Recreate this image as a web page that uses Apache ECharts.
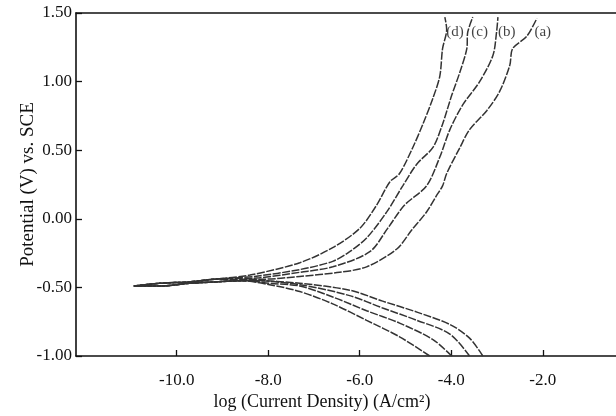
<!DOCTYPE html>
<html>
<head>
<meta charset="utf-8">
<script src="https://cdn.jsdelivr.net/npm/echarts@6/dist/echarts.min.js"></script>
<style>
  html, body { margin: 0; padding: 0; background: #fff; }
  #chart { width: 616px; height: 416px; }
</style>
</head>
<body>
<div id="chart"></div>
<script>
// log(i) / E pairs, each curve runs cathodic (bottom) -> Ecorr tip -> anodic (top)
const curveA_logI = [-3.31, -3.60, -4.03, -4.75, -5.50, -6.22, -7.31, -8.30, -9.17, -9.72, -10.37, -10.94, -10.37, -9.72, -9.17, -8.08, -7.31, -6.44, -5.85, -5.19, -4.86, -4.54, -4.32, -4.19, -4.10, -3.81, -3.60, -3.22, -2.94, -2.72, -2.66, -2.35, -2.13];
const curveA_E    = [-1.00, -0.87, -0.77, -0.68, -0.60, -0.52, -0.47, -0.45, -0.46, -0.47, -0.49, -0.49, -0.47, -0.46, -0.44, -0.44, -0.42, -0.39, -0.35, -0.22, -0.08, 0.05, 0.17, 0.24, 0.33, 0.52, 0.65, 0.79, 0.93, 1.12, 1.24, 1.33, 1.46];

const curveB_logI = [-3.60, -4.03, -4.75, -5.50, -6.22, -7.31, -8.40, -9.17, -9.72, -10.37, -10.94, -10.37, -9.72, -9.17, -8.19, -7.31, -6.59, -5.78, -5.39, -5.02, -4.54, -4.25, -4.03, -3.75, -3.38, -3.09, -3.01, -2.98];
const curveB_E    = [-1.00, -0.84, -0.74, -0.65, -0.56, -0.48, -0.45, -0.46, -0.47, -0.49, -0.49, -0.47, -0.46, -0.44, -0.43, -0.39, -0.35, -0.24, -0.07, 0.10, 0.24, 0.45, 0.65, 0.83, 1.00, 1.19, 1.36, 1.47];

const curveC_logI = [-3.99, -4.40, -5.13, -5.85, -6.59, -7.31, -7.97, -8.51, -9.17, -9.72, -10.37, -10.94, -10.37, -9.72, -9.17, -8.30, -7.31, -6.59, -6.22, -5.85, -5.41, -5.06, -4.75, -4.40, -4.19, -3.99, -3.81, -3.66, -3.64, -3.53];
const curveC_E    = [-1.00, -0.88, -0.76, -0.67, -0.57, -0.49, -0.47, -0.45, -0.46, -0.47, -0.49, -0.49, -0.47, -0.46, -0.44, -0.42, -0.37, -0.31, -0.24, -0.14, 0.05, 0.24, 0.40, 0.52, 0.69, 0.90, 1.07, 1.24, 1.36, 1.47];

const curveD_logI = [-4.47, -5.13, -5.85, -6.59, -7.31, -7.97, -8.62, -9.17, -9.72, -10.37, -10.94, -10.37, -9.72, -9.17, -8.40, -7.31, -6.59, -6.00, -5.63, -5.34, -5.13, -4.84, -4.62, -4.40, -4.25, -4.19, -4.10, -4.14];
const curveD_E    = [-1.00, -0.86, -0.74, -0.62, -0.53, -0.48, -0.45, -0.46, -0.47, -0.49, -0.49, -0.47, -0.46, -0.44, -0.41, -0.32, -0.21, -0.07, 0.10, 0.27, 0.33, 0.52, 0.69, 0.88, 1.04, 1.24, 1.38, 1.47];

const curveNames = ['(a)', '(b)', '(c)', '(d)'];
const labelLogI = [-2.00, -2.79, -3.38, -3.92];
const labelE = [1.36, 1.36, 1.36, 1.36];

const xTicks = [-10, -8, -6, -4, -2];

const serif = 'Liberation Serif';
const ink = '#333';

function pairs(xs, ys) {
  const out = [];
  for (let i = 0; i < xs.length; i++) {
    out.push([xs[i], ys[i]]);
  }
  return out;
}

const curves = [
  pairs(curveA_logI, curveA_E),
  pairs(curveB_logI, curveB_E),
  pairs(curveC_logI, curveC_E),
  pairs(curveD_logI, curveD_E)
];

const series = curves.map((d, i) => ({
  name: curveNames[i],
  type: 'line',
  data: d,
  showSymbol: false,
  smooth: 0.3,
  lineStyle: { color: ink, width: 1.5, type: [8, 1.5] },
  z: 3
}));

series.push({
  type: 'scatter',
  data: pairs(labelLogI, labelE),
  symbolSize: 0,
  label: {
    show: true,
    position: 'inside',
    formatter: (p) => curveNames[p.dataIndex],
    color: '#111',
    fontFamily: serif,
    fontSize: 15
  },
  z: 4
});

const chart = echarts.init(document.getElementById('chart'));
chart.setOption({
  animation: false,
  backgroundColor: '#fff',
  grid: { left: 76, top: 13, right: 0, bottom: 52 },
  xAxis: [{
    type: 'value',
    min: -12.2,
    max: -0.4,
    name: 'log (Current Density) (A/cm²)',
    nameLocation: 'middle',
    nameGap: 37,
    nameMoveOverlap: false,
    nameTextStyle: { fontFamily: serif, fontSize: 18, color: '#111', padding: [0, 48, 0, 0] },
    axisLine: { onZero: false, lineStyle: { color: '#111', width: 1.6 } },
    axisTick: { inside: true, length: 6, customValues: xTicks, lineStyle: { color: '#111', width: 1.3 } },
    axisLabel: {
      customValues: xTicks,
      margin: 16,
      fontFamily: serif,
      fontSize: 17,
      color: '#111',
      formatter: (v) => v.toFixed(1)
    },
    splitLine: { show: false }
  }, {
    type: 'value',
    position: 'top',
    min: -12.2,
    max: -0.4,
    axisLine: { show: true, onZero: false, lineStyle: { color: '#111', width: 1.6 } },
    axisTick: { show: false },
    axisLabel: { show: false },
    splitLine: { show: false }
  }],
  yAxis: {
    type: 'value',
    min: -1,
    max: 1.5,
    interval: 0.5,
    name: 'Potential (V) vs. SCE',
    nameLocation: 'middle',
    nameGap: 38,
    nameMoveOverlap: false,
    nameTextStyle: { fontFamily: serif, fontSize: 19, color: '#111' },
    axisLine: { show: true, onZero: false, lineStyle: { color: '#111', width: 1.6 } },
    axisTick: { inside: true, length: 6, lineStyle: { color: '#111', width: 1.3 } },
    axisLabel: {
      margin: 4,
      fontFamily: serif,
      fontSize: 17,
      color: '#111',
      formatter: (v) => v.toFixed(2)
    },
    splitLine: { show: false }
  },
  series: series
});
</script>
</body>
</html>
